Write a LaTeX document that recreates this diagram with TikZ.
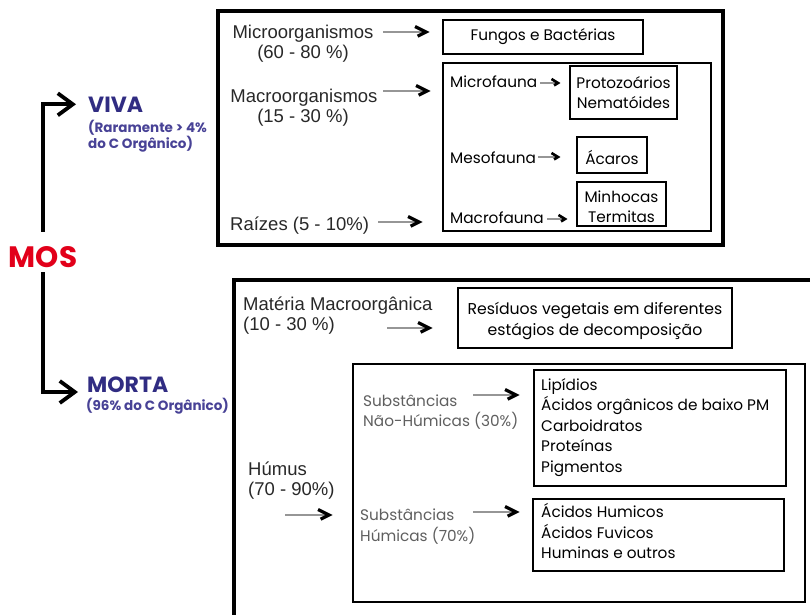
\documentclass[tikz,border=0pt]{standalone}
\usepackage{fontspec}
\setmainfont{Liberation Sans}
\newfontfamily\futura{Poppins}
\usetikzlibrary{arrows.meta,positioning}
\definecolor{mosred}{RGB}{226,0,26}
\definecolor{vivablue}{RGB}{48,44,130}
\definecolor{subblue}{RGB}{72,66,150}
\definecolor{txtgray}{RGB}{40,40,40}
\definecolor{subgray}{RGB}{95,95,95}
\definecolor{shaftgray}{RGB}{150,150,150}

\tikzset{
  chev/.pic={\draw[black, line width=3.2pt, line cap=butt, line join=miter] (-11,-5.5) -- (0,0) -- (-11,5.5);},
  smallchev/.pic={\draw[black, line width=2.6pt, line cap=butt, line join=miter] (-6.5,-4) -- (0,0) -- (-6.5,4);}
}

\begin{document}
\begin{tikzpicture}[x=1pt, y=-1pt]
    % Define styles
    \tikzstyle{bigframe} = [draw=black, line width=4pt]
    \tikzstyle{midframe} = [draw=black, line width=2.2pt]
    \tikzstyle{smallbox} = [draw=black, line width=1.6pt]
    \tikzstyle{ariatxt} = [inner sep=0pt, text=txtgray, font=\fontsize{18.5}{21}\selectfont]
    \tikzstyle{futtxt} = [inner sep=0pt, text=black, font=\futura\fontsize{15.3}{20}\selectfont]
    \tikzstyle{graytxt} = [futtxt, text=subgray]
    \tikzstyle{subtxt} = [inner sep=0pt, text=subblue, font=\futura\bfseries\fontsize{13.5}{16}\selectfont, anchor=base west]
    \tikzstyle{arrow} = [draw=shaftgray, line width=1.2pt, shorten >=3pt]
    \tikzstyle{branch} = [draw=black, line width=3.6pt, -{Straight Barb[length=15pt, width=22pt, line width=3.8pt]}]

    \useasboundingbox (0,0) rectangle (810,614);

    % MOS and branches
    \node [inner sep=0pt, text=mosred, font=\futura\bfseries\fontsize{29.5}{30}\selectfont, anchor=base] (mos) at (43,267) {MOS};
    \node [inner sep=0pt, text=vivablue, font=\futura\bfseries\fontsize{22}{24}\selectfont, anchor=base west] (viva) at (88,112) {VIVA};
    \node [subtxt] (vivasub1) at (88,132) {(Raramente > 4\%};
    \node [subtxt] (vivasub2) at (88,148) {do C Orgânico)};
    \node [inner sep=0pt, text=vivablue, font=\futura\bfseries\fontsize{22}{24}\selectfont, anchor=base west] (morta) at (87,392) {MORTA};
    \node [subtxt] (mortasub) at (86,410) {(96\% do C Orgânico)};

    \draw [branch, shorten <=14pt, shorten >=12pt] (mos.north) |- (viva.west);
    \draw [branch, shorten <=5pt, shorten >=9pt] (mos.south) |- (morta.base west);

    % VIVA frame
    \draw [bigframe] (218,11) rectangle (723,245);
    \node [ariatxt, anchor=base] (micro1) at (303,38) {Microorganismos};
    \node [ariatxt, anchor=base] (micro2) at (303,58) {(60 - 80 \%)};
    \node [ariatxt, anchor=base] (macro1) at (304,102) {Macroorganismos};
    \node [ariatxt, anchor=base] (macro2) at (303,122) {(15 - 30 \%)};
    \node [ariatxt, anchor=base west] (raizes) at (230,230) {Raízes (5 - 10\%)};

    \node [smallbox, minimum width=200pt, minimum height=34pt] (fungos) at (543,37) {};
    \node [futtxt] at (fungos.center) {Fungos e Bactérias};

    \draw [midframe] (443,63) rectangle (711,231);
    \node [futtxt, anchor=base west] (microfauna) at (450,87) {Microfauna};
    \node [futtxt, anchor=base west] (mesofauna) at (450,163) {Mesofauna};
    \node [futtxt, anchor=base west] (macrofauna) at (450,223) {Macrofauna};

    \node [smallbox, minimum width=107pt, minimum height=53pt] (protozoa) at (623.5,92.5) {};
    \node [futtxt, anchor=base] (protozoa1) at (623.5,88) {Protozoários};
    \node [futtxt, anchor=base] (protozoa2) at (623.5,108) {Nematóides};
    \node [smallbox, minimum width=70pt, minimum height=36pt] (acaros) at (612,155) {};
    \node [futtxt, anchor=base] (acarostxt) at (612,164) {Ácaros};
    \node [smallbox, minimum width=89pt, minimum height=44pt] (minhocas) at (621.5,204) {};
    \node [futtxt, anchor=base] (minhocas1) at (621.5,202) {Minhocas};
    \node [futtxt, anchor=base] (minhocas2) at (621.5,222) {Termitas};

    % arrows, top
    \coordinate (mica) at (383,32);  \coordinate (micb) at (426,32);
    \coordinate (maca) at (383,91);  \coordinate (macb) at (427,91);
    \coordinate (raia) at (378,222); \coordinate (raib) at (419,222);
    \draw [arrow] (mica) -- (micb) pic {chev};
    \draw [arrow] (maca) -- (macb) pic {chev};
    \draw [arrow] (raia) -- (raib) pic {chev};
    \coordinate (mfa) at (540,83);  \coordinate (mfb) at (558,83);
    \coordinate (msa) at (538,157); \coordinate (msb) at (558,157);
    \coordinate (mca) at (547,219); \coordinate (mcb) at (565,219);
    \draw [arrow] (mfa) -- (mfb) pic {smallchev};
    \draw [arrow] (msa) -- (msb) pic {smallchev};
    \draw [arrow] (mca) -- (mcb) pic {smallchev};

    % MORTA frame
    \draw [bigframe] (234,620) -- (234,280) -- (815,280);
    \node [ariatxt, anchor=base west] (materia1) at (243,310) {Matéria Macroorgânica};
    \node [ariatxt, anchor=base west] (materia2) at (243,330) {(10 - 30 \%)};
    \node [draw=black, line width=2.8pt, minimum width=274pt, minimum height=60pt] (residuos) at (595,318) {};
    \node [futtxt, font=\futura\fontsize{15.7}{21}\selectfont, anchor=base] (residuos1) at (595,314) {Resíduos vegetais em diferentes};
    \node [futtxt, font=\futura\fontsize{15.7}{21}\selectfont, anchor=base] (residuos2) at (595,335) {estágios de decomposição};

    \node [ariatxt, anchor=base west] (humus1) at (248,475) {Húmus};
    \node [ariatxt, anchor=base west] (humus2) at (248,495) {(70 - 90\%)};

    \draw [midframe] (353,364) rectangle (805,602);
    \node [graytxt, anchor=base west] (naohum1) at (363,406) {Substâncias};
    \node [graytxt, anchor=base west] (naohum2) at (363,426) {Não-Húmicas (30\%)};
    \node [graytxt, anchor=base west] (hum1) at (360,520) {Substâncias};
    \node [graytxt, anchor=base west] (hum2) at (360,541) {Húmicas (70\%)};

    \node [smallbox, anchor=north west, minimum width=252pt, minimum height=116pt] (lipbox) at (533,369) {};
    \node [futtxt, anchor=base west] (lip1) at (541,390) {Lipídios};
    \node [futtxt, anchor=base west] (lip2) at (541,410.5) {Ácidos orgânicos de baixo PM};
    \node [futtxt, anchor=base west] (lip3) at (541,431) {Carboidratos};
    \node [futtxt, anchor=base west] (lip4) at (541,451.5) {Proteínas};
    \node [futtxt, anchor=base west] (lip5) at (541,472) {Pigmentos};

    \node [smallbox, anchor=north west, minimum width=251pt, minimum height=72pt] (humbox) at (532,498) {};
    \node [futtxt, anchor=base west] (humb1) at (541,517) {Ácidos Humicos};
    \node [futtxt, anchor=base west] (humb2) at (541,538) {Ácidos Fuvicos};
    \node [futtxt, anchor=base west] (humb3) at (541,558) {Huminas e outros};

    % arrows, bottom
    \coordinate (mata) at (387,328); \coordinate (matb) at (429,328);
    \coordinate (huma) at (285,515); \coordinate (humb) at (329,515);
    \coordinate (nha) at (473,395);  \coordinate (nhb) at (516,395);
    \coordinate (sha) at (473,512);  \coordinate (shb) at (516,512);
    \draw [arrow] (mata) -- (matb) pic {chev};
    \draw [arrow] (huma) -- (humb) pic {chev};
    \draw [arrow] (nha) -- (nhb) pic {chev};
    \draw [arrow] (sha) -- (shb) pic {chev};
\end{tikzpicture}
\end{document}
